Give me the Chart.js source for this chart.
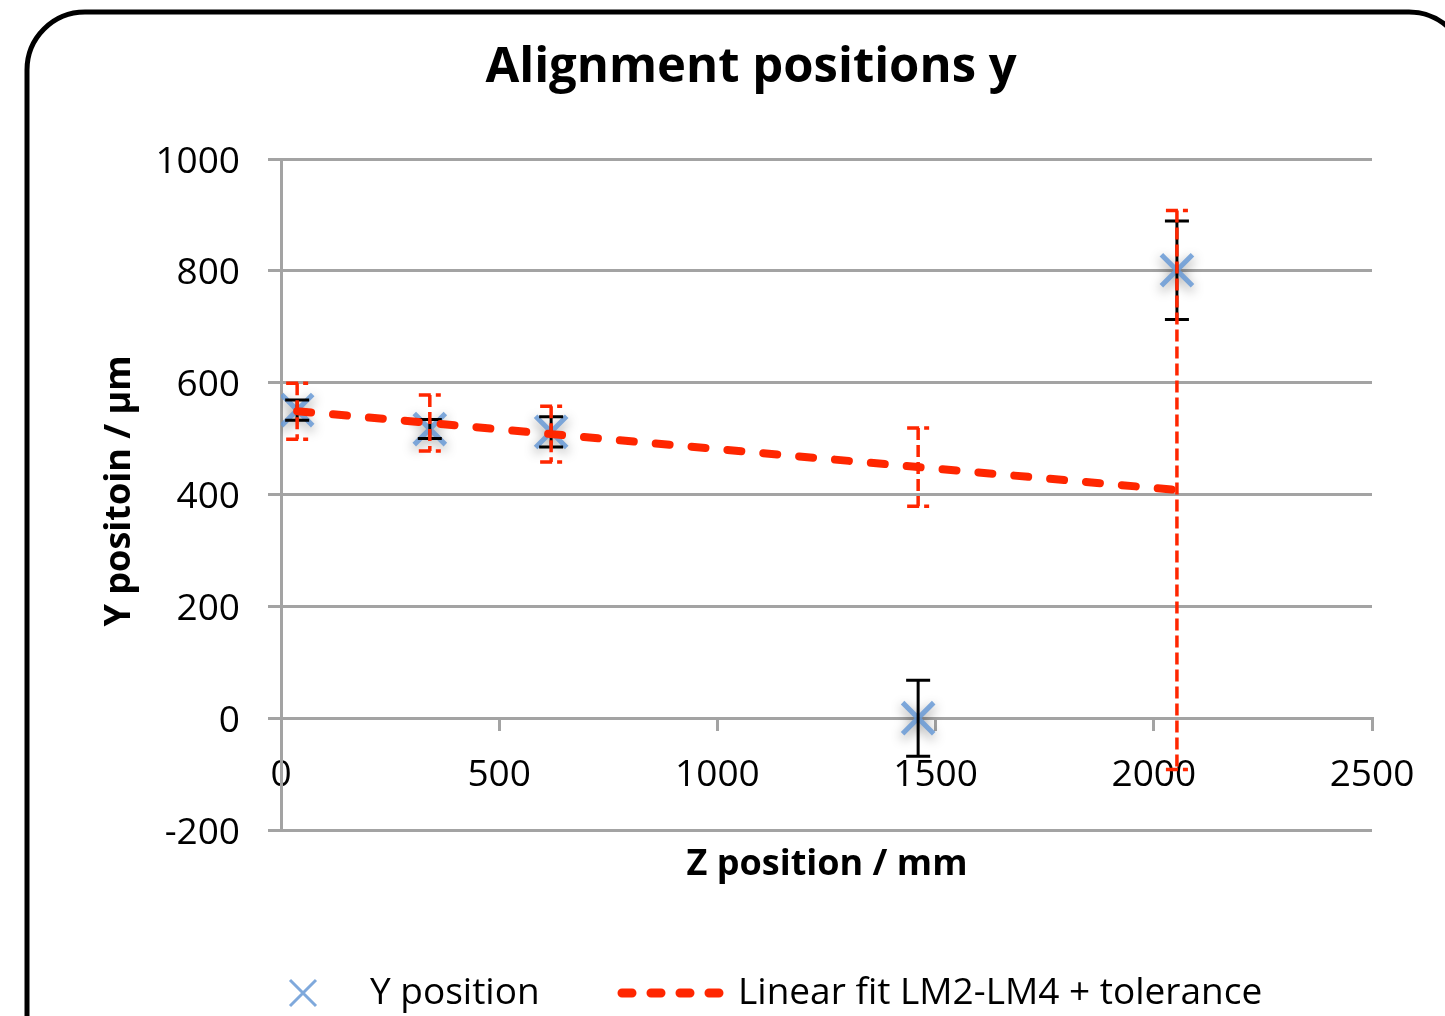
<!DOCTYPE html>
<html>
<head>
<meta charset="utf-8">
<script src="https://cdn.jsdelivr.net/npm/chart.js@4.4.1/dist/chart.umd.min.js"></script>
<style>
  html, body { margin: 0; padding: 0; background: #fff; overflow: hidden; }
</style>
</head>
<body>
<canvas id="chart" width="1445" height="1016"></canvas>
<script>
const chartTitle = "Alignment positions y";
const xTitle = "Z position / mm";
const yTitle = "Y positoin / µm";
const seriesNames = ["Y position", "Linear fit LM2-LM4 + tolerance"];

const zPositions = [37, 341, 619, 1460, 2053];
const yPositions = [551, 517, 512, 0, 801];
const yErrors = [18, 17, 27, 68, 88];
const fitValues = [549, 528, 508, 449, 408];
const fitTolerance = [50, 50, 50, 70, 500];

const xTicks = [0, 500, 1000, 1500, 2000, 2500];
const yTicks = [-200, 0, 200, 400, 600, 800, 1000];

const FONT = "'Open Sans', 'DejaVu Sans', sans-serif";
const GRID = "#a3a3a3";
const BLUE = "rgba(104, 154, 214, 0.85)";
const RED = "rgb(255, 38, 0)";

function drawErrorBars(chart, xs, centers, errs, style) {
  const { ctx, scales: { x, y } } = chart;
  ctx.save();
  ctx.strokeStyle = style.color;
  ctx.lineWidth = style.width;
  ctx.setLineDash(style.dash);
  xs.forEach((v, i) => {
    const px = x.getPixelForValue(v);
    const top = y.getPixelForValue(centers[i] + errs[i]);
    const bot = y.getPixelForValue(centers[i] - errs[i]);
    ctx.beginPath();
    ctx.moveTo(px, top);
    ctx.lineTo(px, bot);
    ctx.moveTo(px - style.cap, top);
    ctx.lineTo(px + style.cap, top);
    ctx.moveTo(px - style.cap, bot);
    ctx.lineTo(px + style.cap, bot);
    ctx.stroke();
  });
  ctx.restore();
}

const decorations = {
  id: "decorations",
  beforeDraw(chart) {
    const ctx = chart.ctx;
    ctx.save();
    ctx.fillStyle = "#fff";
    ctx.fillRect(0, 0, chart.width, chart.height);
    // rounded frame
    ctx.strokeStyle = "#000";
    ctx.lineWidth = 5;
    ctx.beginPath();
    ctx.roundRect(27, 12, 1440, 1100, 58);
    ctx.stroke();
    ctx.restore();
  },
  beforeDatasetDraw(chart, args) {
    if (args.index === 0) {
      const ctx = chart.ctx;
      ctx.save();
      ctx.shadowColor = "rgba(0, 0, 0, 0.5)";
      ctx.shadowBlur = 12;
      ctx.shadowOffsetY = 4;
    }
  },
  afterDatasetDraw(chart, args) {
    if (args.index === 0) {
      chart.ctx.restore();
      drawErrorBars(chart, zPositions, yPositions, yErrors,
        { color: "#000", width: 3, dash: [], cap: 12 });
    } else {
      drawErrorBars(chart, zPositions, fitValues, fitTolerance,
        { color: RED, width: 3.5, dash: [12, 5], cap: 11 });
    }
  },
  afterDraw(chart) {
    const ctx = chart.ctx;
    ctx.save();
    ctx.fillStyle = "#000";
    ctx.textBaseline = "middle";
    ctx.textAlign = "center";
    ctx.font = "bold 49px " + FONT;
    ctx.fillText(chartTitle, 751, 68);
    ctx.font = "bold 36px " + FONT;
    ctx.fillText(xTitle, 827, 865);
    ctx.save();
    ctx.translate(120, 491);
    ctx.rotate(-Math.PI / 2);
    ctx.fillText(yTitle, 0, 0);
    ctx.restore();

    // legend
    const ly = 993;
    ctx.strokeStyle = BLUE;
    ctx.lineWidth = 3;
    ctx.beginPath();
    ctx.moveTo(290, ly - 13); ctx.lineTo(316, ly + 13);
    ctx.moveTo(316, ly - 13); ctx.lineTo(290, ly + 13);
    ctx.stroke();
    ctx.strokeStyle = RED;
    ctx.lineWidth = 9;
    ctx.lineCap = "round";
    ctx.setLineDash([10, 19]);
    ctx.beginPath();
    ctx.moveTo(622, ly);
    ctx.lineTo(730, ly);
    ctx.stroke();
    ctx.setLineDash([]);
    ctx.textAlign = "left";
    ctx.font = "37px " + FONT;
    ctx.fillText(seriesNames[0], 370, ly);
    ctx.fillText(seriesNames[1], 738, ly);
    ctx.restore();
  }
};

new Chart(document.getElementById("chart"), {
  data: {
    datasets: [
      {
        type: "scatter",
        label: seriesNames[0],
        data: zPositions.map((z, i) => ({ x: z, y: yPositions[i] })),
        pointStyle: "crossRot",
        pointRadius: 22,
        pointBorderWidth: 5,
        borderColor: BLUE,
        backgroundColor: BLUE,
        order: 2,
      },
      {
        type: "line",
        label: seriesNames[1],
        data: zPositions.map((z, i) => ({ x: z, y: fitValues[i] })),
        borderColor: RED,
        borderWidth: 8,
        borderDash: [14, 22],
        borderCapStyle: "round",
        pointRadius: 0,
        fill: false,
        tension: 0,
        order: 1,
      },
    ],
  },
  options: {
    responsive: false,
    animation: false,
    events: [],
    layout: { padding: { left: 0, right: 73, top: 159, bottom: 186 } },
    plugins: {
      legend: { display: false },
      title: { display: false },
      tooltip: { enabled: false },
    },
    scales: {
      x: {
        type: "linear",
        position: { y: 0 },
        min: 0,
        max: 2500,
        afterBuildTicks: (scale) => { scale.ticks = xTicks.map(v => ({ value: v })); },
        grid: { drawOnChartArea: false, color: GRID, lineWidth: 3, tickLength: 11 },
        border: { display: true, color: GRID, width: 3 },
        ticks: {
          color: "#000", font: { family: FONT, size: 37 }, padding: 24, maxRotation: 0,
          callback: (v) => String(v),
        },
      },
      y: {
        type: "linear",
        min: -200,
        max: 1000,
        afterBuildTicks: (scale) => { scale.ticks = yTicks.map(v => ({ value: v })); },
        afterFit: (scale) => { scale.width = 281; },
        grid: { color: GRID, lineWidth: 3, tickLength: 13 },
        border: { display: true, color: GRID, width: 3 },
        ticks: {
          color: "#000", font: { family: FONT, size: 37 }, padding: 28, labelOffset: 3,
          callback: (v) => String(v),
        },
      },
    },
  },
  plugins: [decorations],
});
</script>
</body>
</html>
